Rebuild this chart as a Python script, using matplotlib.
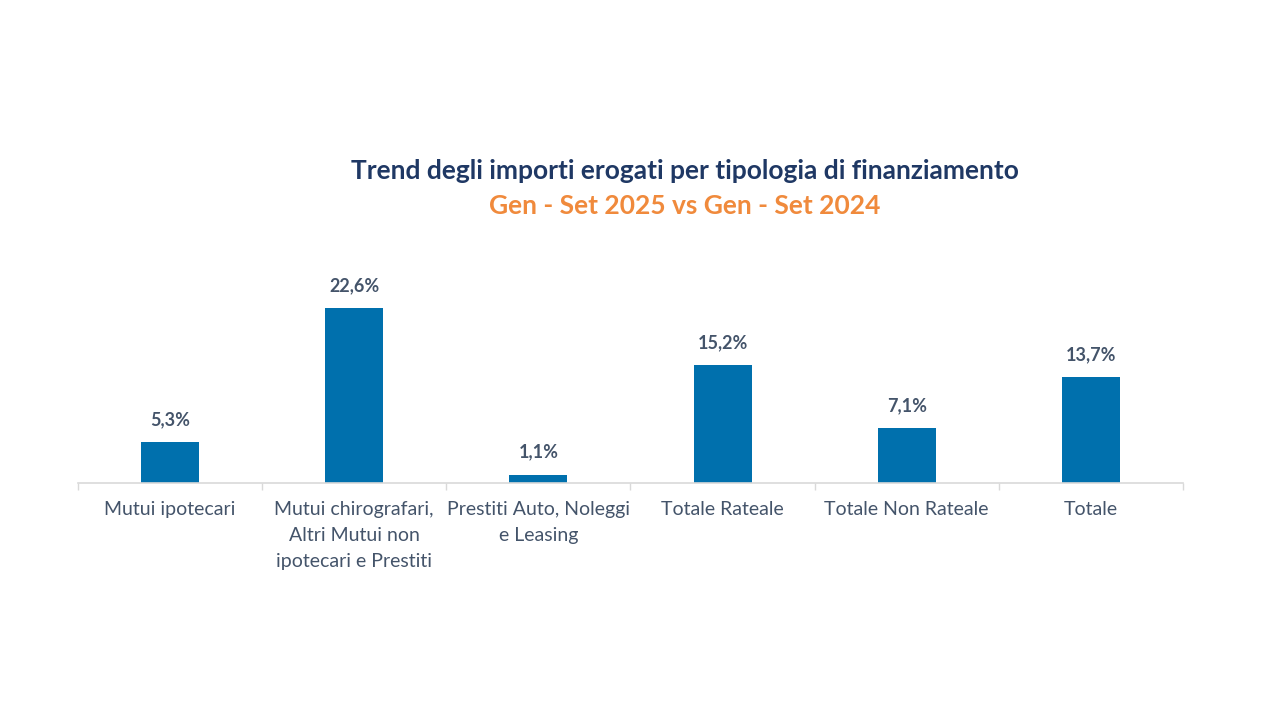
import matplotlib.pyplot as plt

categories = ["Mutui ipotecari",
              "Mutui chirografari,\nAltri Mutui non\nipotecari e Prestiti",
              "Prestiti Auto, Noleggi\ne Leasing",
              "Totale Rateale",
              "Totale Non Rateale",
              "Totale"]
values = [5.3, 22.6, 1.1, 15.2, 7.1, 13.7]
value_labels = ["5,3%", "22,6%", "1,1%", "15,2%", "7,1%", "13,7%"]

plt.rcParams['font.family'] = ['Lato', 'DejaVu Sans']

bar_color = "#0070AD"
text_color = "#44546A"

fig = plt.figure(figsize=(12.8, 7.2), dpi=100)
ax = fig.add_axes([0.0609, 0.329, 0.8633, 0.269])

x = list(range(len(categories)))
ax.bar(x, values, width=0.315, color=bar_color)
for xi, v, lab in zip(x, values, value_labels):
    ax.annotate(lab, (xi, v), xytext=(0, 10), textcoords="offset points",
                ha="center", va="bottom", fontsize=13, color=text_color,
                fontweight="bold")

ax.set_xlim(-0.5, len(categories) - 0.5)
ax.set_ylim(0, 25)
ax.set_xticks(x)
ax.set_xticklabels(categories, fontsize=14, color=text_color, linespacing=1.65)
ax.tick_params(axis="x", which="major", length=0, pad=13)
ax.set_xticks([i - 0.5 for i in range(len(categories) + 1)], minor=True)
ax.tick_params(axis="x", which="minor", length=5, color="#D9D9D9", width=1)
ax.set_yticks([])
for s in ["top", "right", "left"]:
    ax.spines[s].set_visible(False)
ax.spines["bottom"].set_color("#D9D9D9")
ax.spines["bottom"].set_linewidth(1.2)

fig.text(0.535, 0.762, "Trend degli importi erogati per tipologia di finanziamento",
         ha="center", va="center", fontsize=19, fontweight="bold", color="#1F3864")
fig.text(0.535, 0.714, "Gen - Set 2025 vs Gen - Set 2024",
         ha="center", va="center", fontsize=19, fontweight="bold", color="#F08A3C")

fig.savefig("out.png", dpi=100)
